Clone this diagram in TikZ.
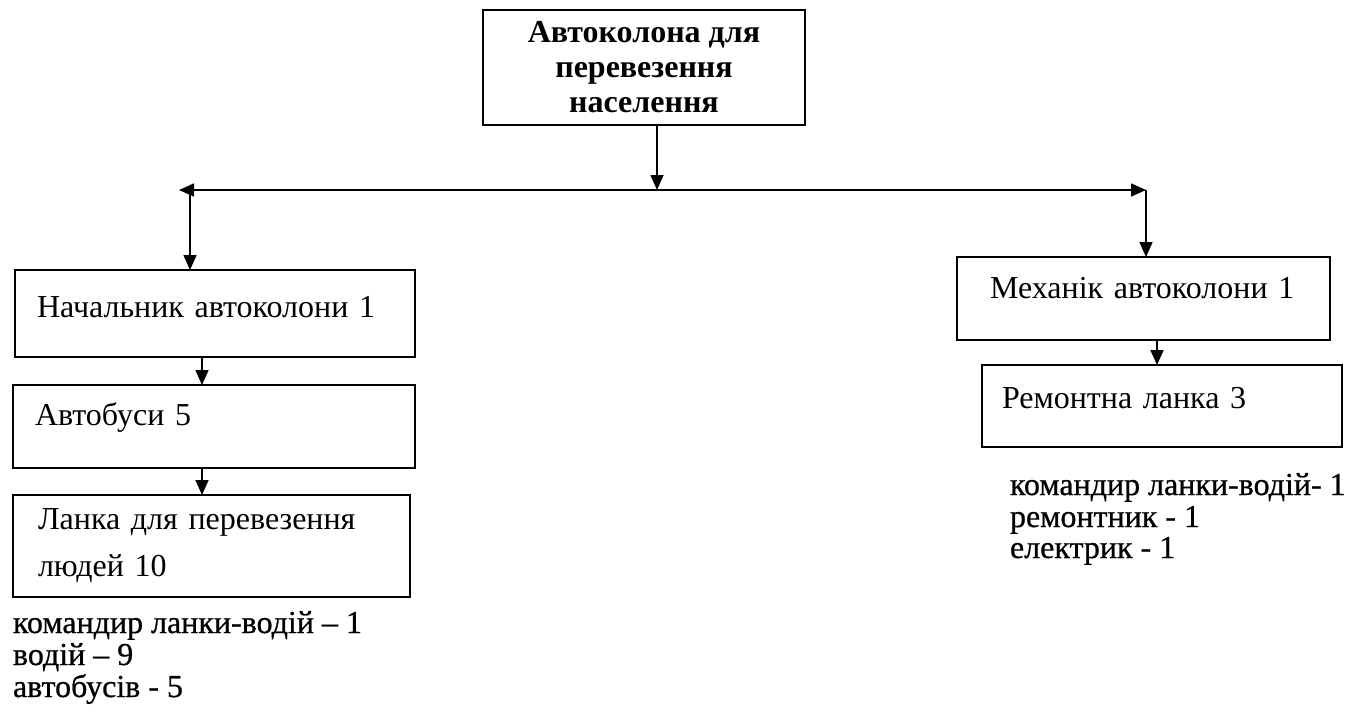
\documentclass[tikz,border=0pt]{standalone}
\usepackage{fontspec}
\setmainfont{Liberation Serif}
\newfontfamily\listfont[FakeBold=0.7]{Liberation Serif}
\usetikzlibrary{arrows.meta,calc}
\begin{document}
\begin{tikzpicture}[x=1pt,y=-1pt,
  every node/.style={inner sep=0pt,outer sep=0pt},
  box/.style={draw,line width=1.6pt,align=left,anchor=north west,inner ysep=0pt},
  txt/.style={anchor=base west,font=\listfont\fontsize{32}{32}\selectfont},
  arr/.style={line width=1.6pt,-{Triangle[length=15pt,width=13pt]}},
  ln/.style={line width=1.6pt}]
\useasboundingbox (0,0) rectangle (1348,718);
\fill[white] (0,0) rectangle (1348,718);
% top box
\node[draw,line width=1.6pt,minimum width=322pt,minimum height=115pt,align=center,
  font=\fontsize{32}{35}\selectfont\bfseries] (top) at (644,67.5)
  {Автоколона для\\перевезення\\населення};
% left column
\node[box,inner xsep=22pt,text width=356pt,text height=47pt,text depth=40pt,
  font=\fontsize{32}{37}\selectfont] (nach) at (15,270) {Начальник автоколони 1};
\node[box,inner xsep=22pt,text width=358pt,text height=40pt,text depth=43pt,
  font=\fontsize{32}{37}\selectfont] (avto) at (13,385) {Автобуси 5};
\node[draw,line width=1.6pt,minimum height=102pt,inner xsep=25pt,text width=347pt,align=left,
  font=\fontsize{32}{47}\selectfont] (lanka) at (211.5,546) {Ланка для перевезення\\людей 10};
% right column
\node[box,inner xsep=33pt,text width=307pt,text height=41pt,text depth=42pt,
  font=\fontsize{32}{37}\selectfont] (mech) at (957,257) {Механік автоколони 1};
\node[box,inner xsep=20pt,text width=320pt,text height=43pt,text depth=39pt,
  font=\fontsize{32}{37}\selectfont] (rem) at (982,365) {Ремонтна ланка 3};
% lists
\node[txt] (la) at (13,633) {командир ланки-водій – 1};
\node[txt] (lb) at (13,665) {водій – 9};
\node[txt] (lc) at (13,697) {автобусів - 5};
\node[txt] (ra) at (1010,495) {командир ланки-водій- 1};
\node[txt] (rb) at (1010,527) {ремонтник - 1};
\node[txt] (rc) at (1010,558) {електрик - 1};
% connectors
\coordinate (j) at (657,190);
\coordinate (hl) at (179,190);
\coordinate (hr) at (1146,190);
\coordinate (vl) at (190,190);
\coordinate (vr) at (1146,190);
\draw[arr] (top.south -| j) -- (j);
\draw[arr] (j) -- (hl);
\draw[arr] (j) -- (hr);
\draw[arr] (vl) -- (vl |- nach.north);
\draw[arr] (vr) -- (vr |- mech.north);
\coordinate (c1) at (202,0);
\coordinate (c2) at (1157,0);
\draw[arr] (nach.south -| c1) -- (avto.north -| c1);
\draw[arr] (avto.south -| c1) -- (lanka.north -| c1);
\draw[arr] (mech.south -| c2) -- (rem.north -| c2);
\end{tikzpicture}
\end{document}
